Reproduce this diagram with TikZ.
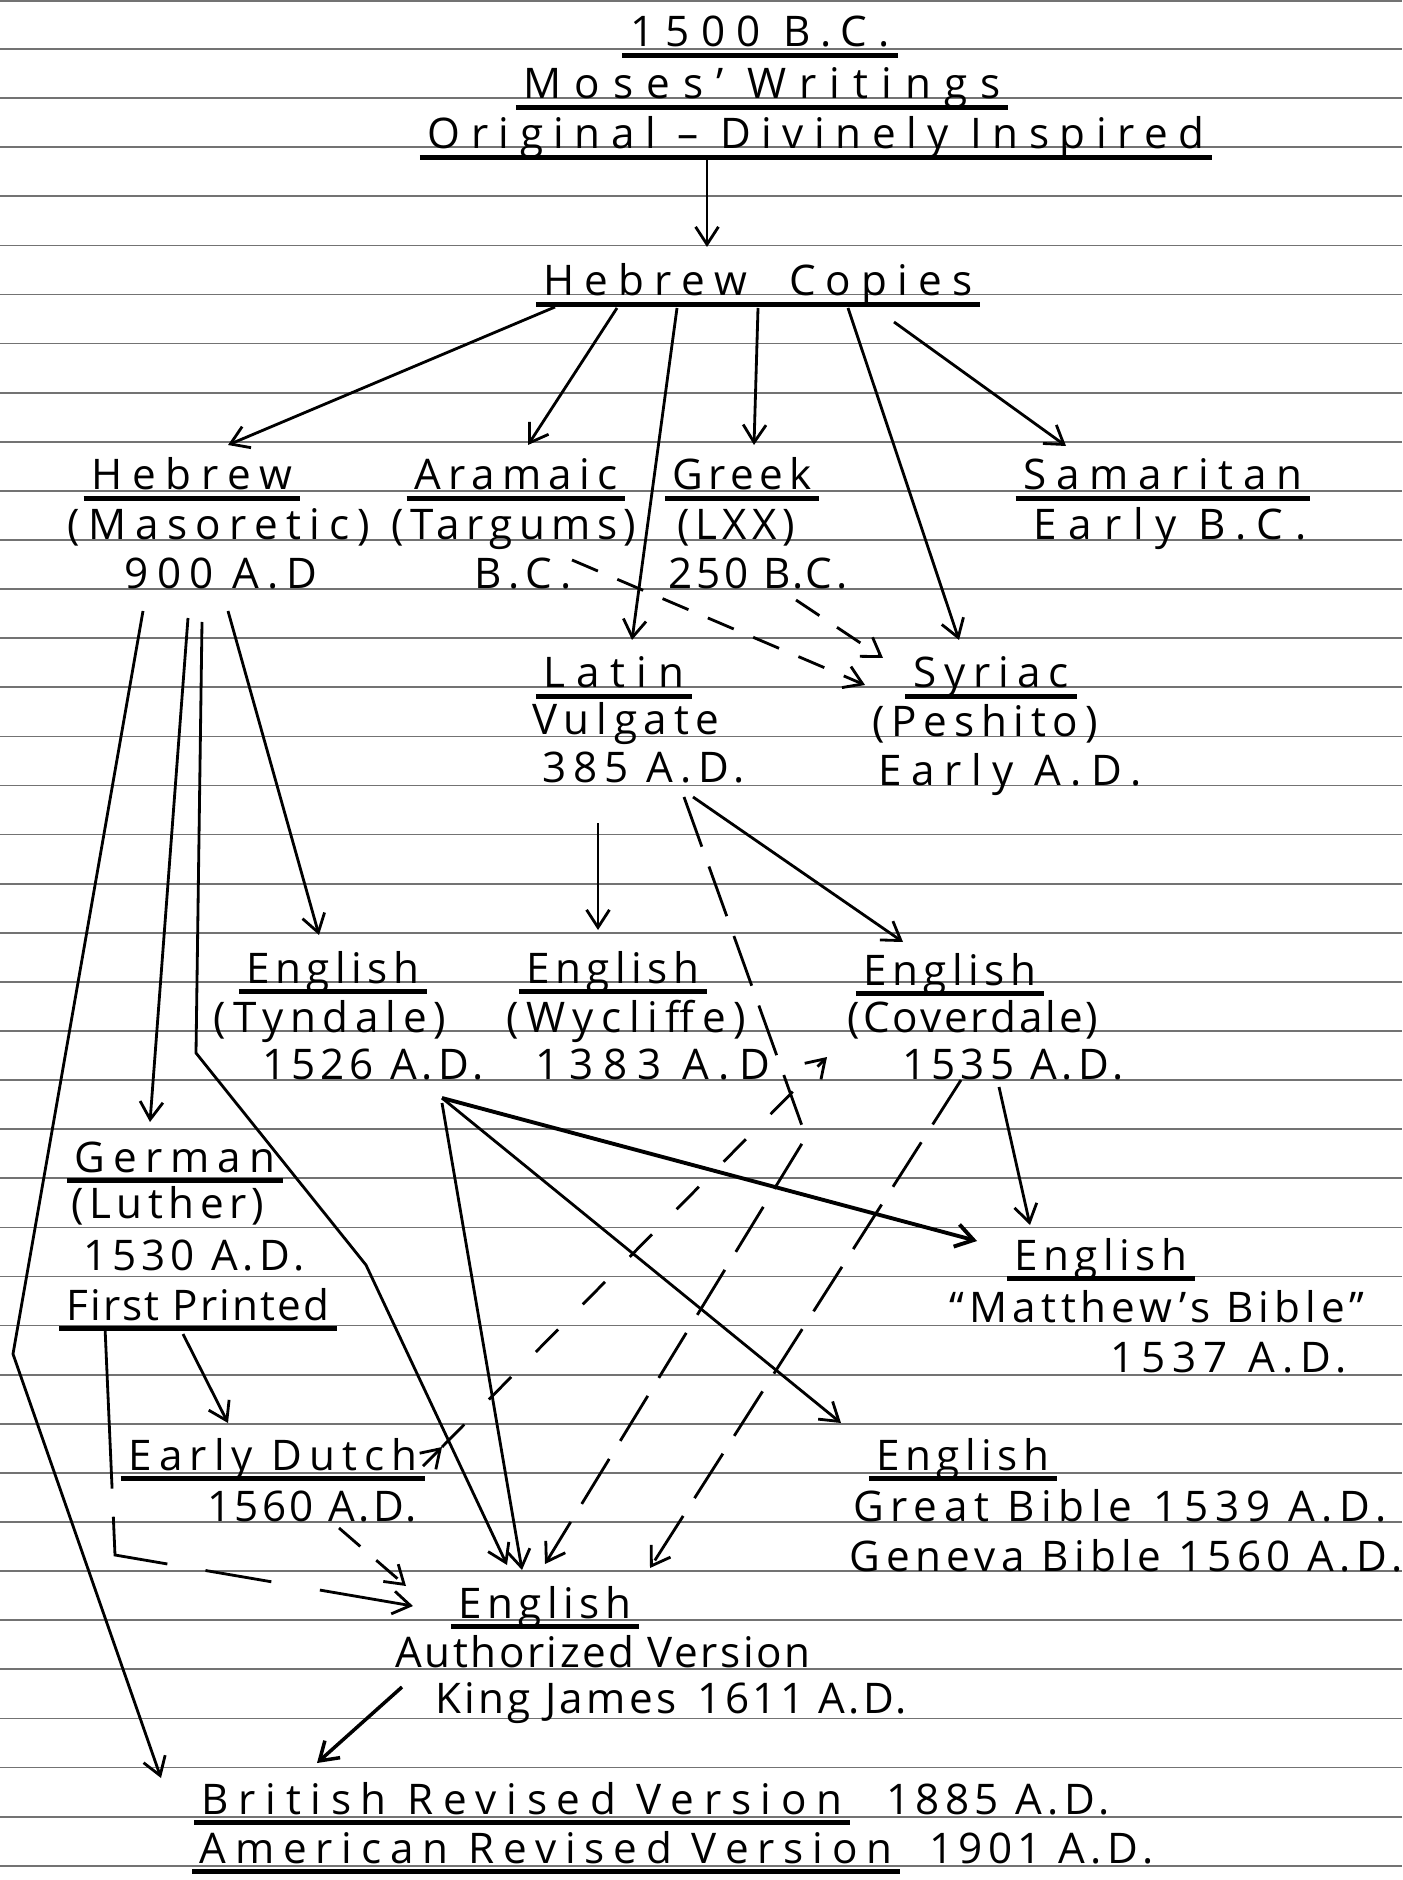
\documentclass[tikz,border=0pt]{standalone}
\usepackage{fontspec}
\setmainfont{Open Sans}[LetterSpace=20]
\usetikzlibrary{arrows.meta}
\usetikzlibrary{calc}
\usetikzlibrary{positioning}
\newcommand{\hand}{\fontsize{12}{14}\selectfont}

\begin{document}
\begin{tikzpicture}[x=0.01cm,y=-0.01cm,
	txt/.style={font=\hand, anchor=base, inner xsep=2pt, inner ysep=1pt},
	sp/.style={font=\hand\addfontfeature{LetterSpace=#1}},
	ul/.style={append after command={([yshift=-2.4pt]\tikzlastnode.base west) edge[line width=1.4pt] ([yshift=-2.4pt]\tikzlastnode.base east)}},
	rule/.style={black!55, line width=0.5pt},
	arr/.style={-{Straight Barb[length=5pt,width=6.5pt]}, line width=0.8pt},
	dsh/.style={arr, dash pattern=on 8pt off 6pt},
	ldsh/.style={arr, dash pattern=on 15pt off 6pt}]
	\fill[white] (0,0) rectangle (1402,1880);
	\useasboundingbox (0,0) rectangle (1402,1880);
	\draw[rule] (0,1) -- (1402,1);
	\foreach \k in {0,...,37}
		\draw[rule] (0,{49+49.1*\k}) -- (1402,{49+49.1*\k});

	\begin{scope}[every node/.style={txt}]
		\node[ul, sp=27] (t1) at (760,47) {1500 B.C.};
		\node[ul, sp=31] (t2) at (762,99) {Moses’ Writings};
		\node[ul, sp=25] (t3) at (816,149) {Original – Divinely Inspired};
		\node[ul, sp=24] (hcopies) at (758,296) {Hebrew\hspace{12pt}Copies};

		\node[ul, sp=23] (hebrew) at (192,490) {Hebrew};
		\node (maso) at (219,540) {(Masoretic)};
		\node[sp=19] (hdate) at (221,589) {900 A.D};
		\node[ul, sp=17] (aram) at (516,490) {Aramaic};
		\node[sp=15] (targ) at (514,540) {(Targums)};
		\node[sp=19] (abc) at (523,589) {B.C.};
		\node[ul, sp=13] (greek) at (742,490) {Greek};
		\node[sp=13] (lxx) at (736,540) {(LXX)};
		\node[sp=9] (gdate) at (758,589) {250 B.C.};
		\node[ul, sp=23] (samar) at (1163,490) {Samaritan};
		\node[sp=28] (sdate) at (1170,540) {Early\hspace{6pt}B.C.};

		\node[ul, sp=26] (latin) at (614,688) {Latin};
		\node[sp=16] (vulg) at (626,735) {Vulgate};
		\node[sp=16] (ldate) at (644,783) {385 A.D.};
		\node[ul, sp=19] (syriac) at (991,688) {Syriac};
		\node[sp=16] (pesh) at (985,737) {(Peshito)};
		\node[sp=23] (sydate) at (1010,785) {Early A.D.};

		\node[ul, sp=13] (tyn) at (333,983) {English};
		\node[sp=16] (tyn2) at (330,1032) {(Tyndale)};
		\node[sp=12] (tyn3) at (373,1079) {1526 A.D.};
		\node[ul, sp=13] (wyc) at (613,983) {English};
		\node[sp=18] (wyc2) at (626,1032) {(Wycliffe)};
		\node[sp=23] (wyc3) at (653,1079) {1383 A.D};
		\node[ul, sp=13] (cov) at (950,985) {English};
		\node[sp=7] (cov2) at (973,1032) {(Coverdale)};
		\node[sp=12] (cov3) at (1013,1079) {1535 A.D.};

		\node[ul, sp=19] (germ) at (175,1172) {German};
		\node[sp=13] (luth) at (168,1218) {(Luther)};
		\node[sp=12] (gdate2) at (194,1270) {1530 A.D.};
		\node[ul, sp=5] (first) at (198,1320) {First Printed};
		\node[ul, sp=13] (matt) at (1101,1270) {English};
		\node[sp=12] (matt2) at (1157,1322) {“Matthew’s Bible”};
		\node[sp=16] (matt3) at (1229,1372) {1537\hspace{6pt}A.D.};

		\node[ul, sp=17] (dutch) at (273,1470) {Early Dutch};
		\node[sp=8] (ddate) at (312,1521) {1560 A.D.};
		\node[ul, sp=13] (great) at (963,1470) {English};
		\node[sp=16] (great2) at (1120,1521) {Great Bible\hspace{6pt}1539 A.D.};
		\node[sp=13] (great3) at (1126,1571) {Geneva Bible 1560 A.D.};

		\node[ul, sp=13] (kjv) at (545,1618) {English};
		\node[sp=6] (kjv2) at (603,1667) {Authorized Version};
		\node[sp=8] (kjv3) at (671,1713) {King James\hspace{6pt}1611 A.D.};

		\node[ul, sp=23, anchor=base west] (brv) at (194,1814) {British Revised Version};
		\node[sp=13, base right=8pt of brv] (brvd) {1885 A.D.};
		\node[ul, sp=21, anchor=base west] (arv) at (192,1863) {American Revised Version};
		\node[sp=13, base right=6pt of arv] (arvd) {1901 A.D.};
	\end{scope}

	\coordinate (lbend) at (806,1137);
	\coordinate (hbend1) at (13,1354);
	\coordinate (hbend2) at (196,1053);
	\coordinate (hbend3) at (366,1265);
	\coordinate (fbend) at (115,1555);

	\draw[arr] ($(t3.base)+(-109,9)$) -- ($(hcopies.base)+(-51,-49)$);
	\draw[arr] ($(hcopies.base)+(-203,11)$) -- ($(hebrew.base)+(36,-45)$);
	\draw[arr] ($(hcopies.base)+(-141,12)$) -- ($(aram.base)+(12,-45)$);
	\draw[arr] ($(hcopies.base)+(-81,12)$) -- ($(latin.base)+(18,-48)$);
	\draw[arr] ($(hcopies.base)+(0,12)$) -- ($(greek.base)+(12,-45)$);
	\draw[arr] ($(hcopies.base)+(90,12)$) -- ($(syriac.base)+(-32,-48)$);
	\draw[arr] ($(hcopies.base)+(136,26)$) -- ($(samar.base)+(-97,-44)$);

	\draw[dsh] ($(abc.base)+(49,-29)$) -- ($(syriac.base)+(-126,-3)$);
	\draw[dsh] ($(gdate.base)+(38,11)$) -- ($(syriac.base)+(-108,-30)$);

	\draw[arr] ($(ldate.base)+(-46,40)$) -- ($(wyc.base)+(-15,-53)$);
	\draw[arr] ($(ldate.base)+(49,14)$) -- ($(cov.base)+(-47,-43)$);
	\draw[ldsh] ($(ldate.base)+(40,14)$) -- (lbend) -- ($(kjv.base)+(0,-54)$);

	\draw[arr] ($(hdate.base)+(7,22)$) -- ($(tyn.base)+(-14,-48)$);
	\draw[arr] ($(hdate.base)+(-33,29)$) -- ($(germ.base)+(-25,-50)$);
	\draw[arr] ($(hdate.base)+(-78,22)$) -- (hbend1) -- ($(brv.base west)+(-33,-36)$);
	\draw[arr] ($(hdate.base)+(-19,33)$) -- (hbend2) -- (hbend3) -- ($(kjv.base)+(-38,-53)$);

	\draw[arr, line width=1.1pt] ($(tyn3.base)+(69,19)$) -- ($(matt.base)+(-124,-29)$);
	\draw[arr] ($(tyn3.base)+(69,19)$) -- ($(great.base)+(-122,-47)$);
	\draw[arr] ($(tyn3.base)+(69,24)$) -- ($(kjv.base)+(-23,-48)$);
	\draw[arr] ($(cov3.base)+(-14,8)$) -- ($(matt.base)+(-71,-45)$);
	\draw[ldsh] ($(cov3.base)+(-52,1)$) -- ($(kjv.base)+(105,-50)$);

	\draw[arr] ($(first.base)+(-15,14)$) -- ($(dutch.base)+(-45,-47)$);
	\draw[arr, dash pattern=on 46pt off 8pt on 26pt off 11pt on 19pt off 14pt on 40pt]
		($(first.base)+(-93,7)$) -- (fbend) -- ($(kjv.base)+(-132,-12)$);
	\draw[dsh] ($(ddate.base)+(27,7)$) -- ($(kjv.base)+(-139,-32)$);
	\draw[arr] ($(dutch.base)+(150,-4)$) -- ($(dutch.base)+(169,-23)$);
	\draw[arr, dash pattern=on 9pt off 10pt] ($(dutch.base)+(169,-23)$) -- ($(wyc3.base)+(174,-22)$);
	\draw[arr, line width=1pt] ($(kjv2.base)+(-201,20)$) -- ($(brv.base west)+(123,-51)$);
\end{tikzpicture}
\end{document}
